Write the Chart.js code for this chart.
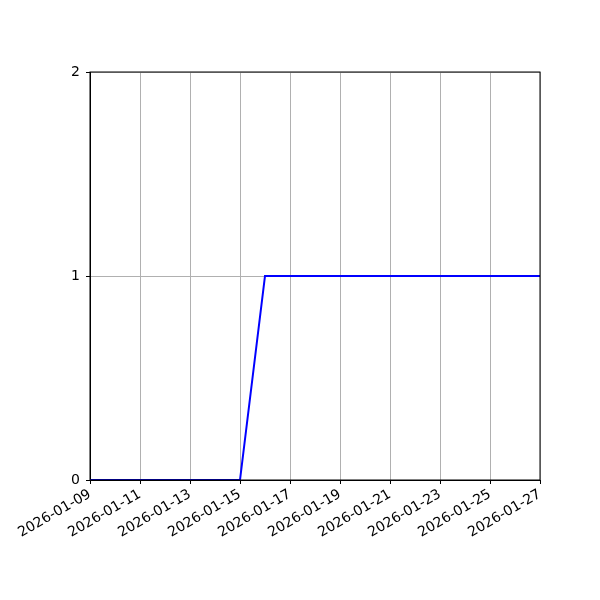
<!DOCTYPE html>
<html>
<head>
<meta charset="utf-8">
<script src="https://cdn.jsdelivr.net/npm/chart.js@4"></script>
<style>
  html, body { margin: 0; padding: 0; background: #fff; }
  #wrap { width: 600px; height: 600px; }
</style>
</head>
<body>
<div id="wrap"><canvas id="chart" width="600" height="600"></canvas></div>
<script>
// one value per day
const dates = [
    '2026-01-09', '2026-01-10', '2026-01-11', '2026-01-12', '2026-01-13',
    '2026-01-14', '2026-01-15', '2026-01-16', '2026-01-17', '2026-01-18',
    '2026-01-19', '2026-01-20', '2026-01-21', '2026-01-22', '2026-01-23',
    '2026-01-24', '2026-01-25', '2026-01-26', '2026-01-27'
];
const values = [0, 0, 0, 0, 0, 0, 0, 1, 1, 1, 1, 1, 1, 1, 1, 1, 1, 1, 1];
const yTicks = [0, 1, 2];

// full black frame round the plot area
const frame = {
    id: 'frame',
    afterDatasetsDraw(chart) {
        const a = chart.chartArea;
        const ctx = chart.ctx;
        ctx.save();
        ctx.strokeStyle = '#000';
        ctx.lineWidth = 1;
        ctx.strokeRect(a.left, a.top, a.right - a.left, a.bottom - a.top);
        ctx.restore();
    }
};

Chart.defaults.font.family = 'DejaVu Sans';
Chart.defaults.font.size = 14;
Chart.defaults.color = '#000';

new Chart(document.getElementById('chart'), {
    type: 'line',
    data: {
        datasets: [{
            data: values.map((v, i) => ({ x: i, y: v })),
            borderColor: '#0000ff',
            borderWidth: 2,
            pointRadius: 0,
            tension: 0
        }]
    },
    options: {
        responsive: false,
        animation: false,
        layout: { padding: { top: 72, right: 60, left: 0, bottom: 0 } },
        plugins: { legend: { display: false }, tooltip: { enabled: false } },
        scales: {
            x: {
                type: 'linear',
                min: 0,
                max: dates.length - 1,
                afterFit: s => { s.height = 120; },
                grid: { color: '#b0b0b0', tickColor: '#000', tickLength: 4 },
                border: { color: '#000' },
                ticks: {
                    stepSize: 2,
                    autoSkip: false,
                    minRotation: 30,
                    maxRotation: 30,
                    padding: 2,
                    callback: v => dates[v]
                }
            },
            y: {
                min: yTicks[0],
                max: yTicks[yTicks.length - 1],
                afterFit: s => { s.width = 90; },
                grid: { color: '#b0b0b0', tickColor: '#000', tickLength: 4 },
                border: { color: '#000' },
                ticks: { stepSize: 1, padding: 6 }
            }
        }
    },
    plugins: [frame]
});
</script>
</body>
</html>
